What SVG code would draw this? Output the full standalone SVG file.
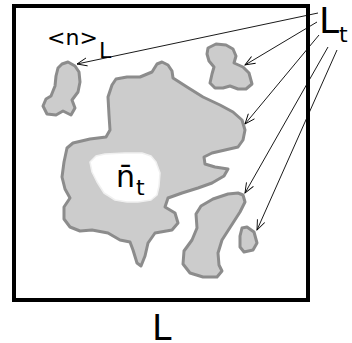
<svg xmlns="http://www.w3.org/2000/svg" width="352" height="343" viewBox="0 0 352 343">
  <style>
    .blob { fill: #cccccc; stroke: #8c8c8c; stroke-width: 3; stroke-linejoin: round; }
    .hole { fill: #ffffff; stroke: #f0f0f0; stroke-width: 1.5; stroke-linejoin: round; }
    .lbl { font-family: "DejaVu Sans", sans-serif; fill: #000000; }
    .conn { stroke: #000000; stroke-width: 0.9; fill: none; }
  </style>
  <defs>
    <marker id="arr" markerUnits="userSpaceOnUse" markerWidth="14" markerHeight="12" refX="0" refY="0" viewBox="-12 -6 14 12" orient="auto">
      <path d="M -10,-4 L 0,0 L -10,4" fill="none" stroke="#000000" stroke-width="0.9"/>
    </marker>
  </defs>
  <rect width="352" height="343" fill="#ffffff"/>

  <g id="frame">
    <rect x="14" y="6" width="294" height="294" fill="none" stroke="#000000" stroke-width="4"/>
  </g>

  <g id="blob-main">
    <polygon class="blob" points="152,72 157,64 162,62 168,65 172,71 173,78 187,87 203,97 220,105 233,112 242,120 245,130 243,140 238,147 225,150 212,153 204,157 205,164 215,167 228,169 224,176 212,183 198,188 182,193 168,198 165,207 175,213 178,223 172,230 155,233 148,243 145,256 141,266 137,263 133,250 130,242 120,240 108,233 92,230 80,231 70,227 64,219 64,207 70,198 65,189 62,177 64,162 67,148 73,143 90,139 106,137 110,130 109,115 108,97 112,85 116,79 127,77 140,77"/>
    <polygon class="hole" points="90,162 96,156 105,154 125,153 142,153 151,156 156,162 160,173 159,186 157,195 151,200 138,202 127,202 115,200 104,193 97,182 92,172"/>
  </g>

  <g id="blob-topleft">
    <polygon class="blob" points="62,64 68,62 75,66 79,72 80,82 78,92 72,100 75,108 71,115 63,111 56,115 47,114 43,106 46,99 51,96 55,86 56,76 58,68"/>
  </g>

  <g id="blob-topright">
    <polygon class="blob" points="208,48 216,44 226,45 233,49 236,56 234,63 243,67 249,73 252,84 246,89 238,89 230,86 223,88 215,88 210,83 212,74 214,67 209,61 207,54"/>
  </g>

  <g id="blob-lower">
    <polygon class="blob" points="238,193 243,195 245,202 240,212 231,226 222,240 218,253 219,265 222,271 217,277 203,277 190,273 183,264 184,251 192,240 197,228 196,214 201,206 213,199 228,194"/>
  </g>

  <g id="blob-small">
    <polygon class="blob" points="242,228 247,227 254,232 257,243 253,250 244,252 240,247 240,236"/>
  </g>

  <g id="label-nL">
    <text class="lbl" x="47" y="45" font-size="22">&lt;n&gt;</text>
    <text class="lbl" x="99" y="58" font-size="22">L</text>
  </g>
  <g id="label-Lt">
    <text class="lbl" x="319" y="33" font-size="36">L</text>
    <text class="lbl" x="339" y="42" font-size="22">t</text>
  </g>
  <g id="label-nt">
    <text class="lbl" x="116" y="187" font-size="30">n&#x0304;</text>
    <text class="lbl" x="136" y="195" font-size="22">t</text>
  </g>
  <g id="label-L">
    <text class="lbl" x="152" y="340" font-size="35">L</text>
  </g>

  <g id="connectors">
    <line class="conn" x1="318" y1="13" x2="77" y2="64" marker-end="url(#arr)"/>
    <line class="conn" x1="317" y1="22" x2="245" y2="65" marker-end="url(#arr)"/>
    <line class="conn" x1="319" y1="35" x2="245" y2="124" marker-end="url(#arr)"/>
    <line class="conn" x1="328" y1="47" x2="245" y2="193" marker-end="url(#arr)"/>
    <line class="conn" x1="337" y1="50" x2="257" y2="230" marker-end="url(#arr)"/>
  </g>
</svg>
